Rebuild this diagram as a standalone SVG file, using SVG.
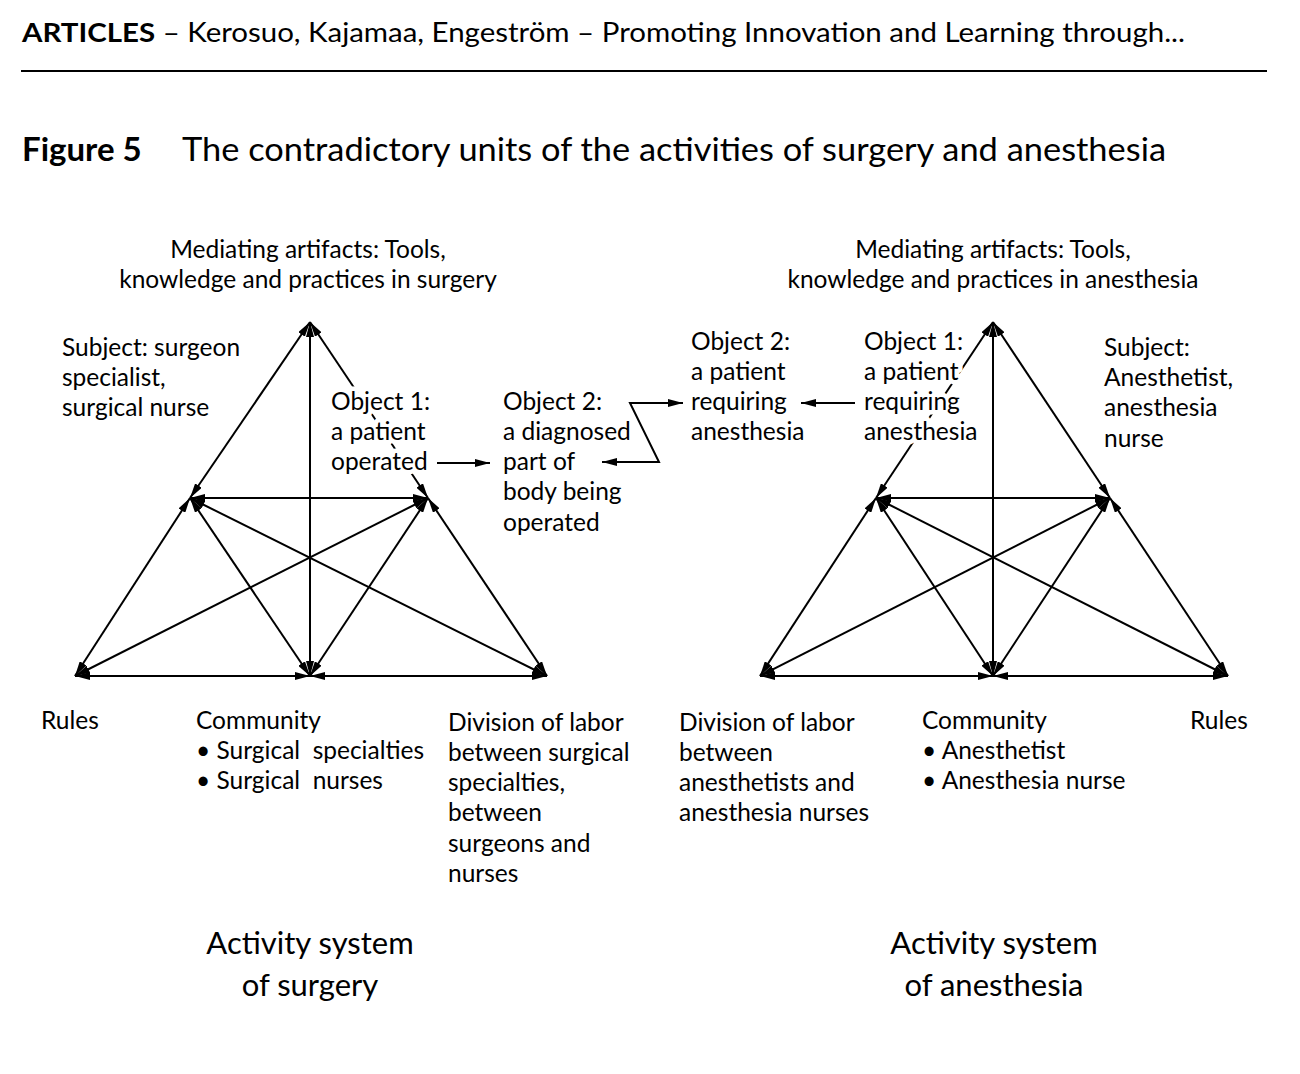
<svg xmlns="http://www.w3.org/2000/svg" width="1300" height="1074" viewBox="0 0 1300 1074">
<style>
text{font-family:Lato,"Open Sans","Liberation Sans",sans-serif;fill:#000}
.t{font-size:24.5px}
.mid{text-anchor:middle}
.halo{stroke:#fff;stroke-width:9px;paint-order:stroke;stroke-linejoin:round}
.big{font-size:31px}
.e{stroke:#000;stroke-width:2;fill:none;marker-start:url(#ah);marker-end:url(#ah)}
.a1{stroke:#000;stroke-width:2;fill:none;marker-end:url(#ah)}
</style>
<defs>
<marker id="ah" viewBox="0 0 15 8" refX="15" refY="4" markerWidth="15" markerHeight="8" markerUnits="userSpaceOnUse" orient="auto-start-reverse">
<path d="M0,0 L15,4 L0,8 z" fill="#000"/>
</marker>
</defs>
<rect width="1300" height="1074" fill="#fff"/>
<g id="header">
<text x="22" y="42" font-size="26" textLength="1163" lengthAdjust="spacingAndGlyphs"><tspan font-weight="bold">ARTICLES</tspan> – Kerosuo, Kajamaa, Engeström – Promoting Innovation and Learning through...</text>
<line x1="21" y1="71" x2="1267" y2="71" stroke="#000" stroke-width="2"/>
<text x="22" y="161" font-size="33" font-weight="bold">Figure 5</text>
<text x="182" y="161" font-size="33" textLength="984" lengthAdjust="spacingAndGlyphs">The contradictory units of the activities of surgery and anesthesia</text>
</g>
<g id="connectors">
<line class="e" x1="310" y1="322" x2="190" y2="498"/>
<line class="e" x1="310" y1="322" x2="428" y2="498"/>
<line class="e" x1="310" y1="322" x2="310" y2="676"/>
<line class="e" x1="190" y1="498" x2="428" y2="498"/>
<line class="e" x1="190" y1="498" x2="75" y2="676"/>
<line class="e" x1="190" y1="498" x2="310" y2="676"/>
<line class="e" x1="190" y1="498" x2="547" y2="676"/>
<line class="e" x1="428" y1="498" x2="75" y2="676"/>
<line class="e" x1="428" y1="498" x2="310" y2="676"/>
<line class="e" x1="428" y1="498" x2="547" y2="676"/>
<line class="e" x1="75" y1="676" x2="310" y2="676"/>
<line class="e" x1="310" y1="676" x2="547" y2="676"/>
<line class="e" x1="993" y1="322" x2="876" y2="498"/>
<line class="e" x1="993" y1="322" x2="1110" y2="498"/>
<line class="e" x1="993" y1="322" x2="993" y2="676"/>
<line class="e" x1="876" y1="498" x2="1110" y2="498"/>
<line class="e" x1="876" y1="498" x2="760" y2="676"/>
<line class="e" x1="876" y1="498" x2="993" y2="676"/>
<line class="e" x1="876" y1="498" x2="1228" y2="676"/>
<line class="e" x1="1110" y1="498" x2="760" y2="676"/>
<line class="e" x1="1110" y1="498" x2="993" y2="676"/>
<line class="e" x1="1110" y1="498" x2="1228" y2="676"/>
<line class="e" x1="760" y1="676" x2="993" y2="676"/>
<line class="e" x1="993" y1="676" x2="1228" y2="676"/>
<line class="a1" x1="437" y1="463" x2="490" y2="463"/>
<polyline class="e" points="683,403 630,403 659,462 602,462"/>
<line class="a1" x1="855" y1="403" x2="801" y2="403"/>
</g>
<g id="surgery-labels">
<g id="mediating-surgery"><text class="t mid" x="308" y="258">Mediating artifacts: Tools,</text><text class="t mid" x="308" y="288">knowledge and practices in surgery</text></g>
<g id="subject-surgery"><text class="t" x="62" y="356">Subject: surgeon</text><text class="t" x="62" y="386">specialist,</text><text class="t" x="62" y="416">surgical nurse</text></g>
<g id="object1-surgery"><text class="t halo" x="331" y="410">Object 1:</text><text class="t halo" x="331" y="440">a patient</text><text class="t halo" x="331" y="470">operated</text></g>
<g id="object2-surgery"><text class="t" x="503" y="410">Object 2:</text><text class="t" x="503" y="440">a diagnosed</text><text class="t" x="503" y="470">part of</text><text class="t" x="503" y="500">body being</text><text class="t" x="503" y="531">operated</text></g>
<g id="rules-surgery"><text class="t" x="41" y="729">Rules</text></g>
<g id="community-surgery"><text class="t" x="196" y="729">Community</text><text class="t" x="196" y="759" xml:space="preserve">• Surgical  specialties</text><text class="t" x="196" y="789" xml:space="preserve">• Surgical  nurses</text></g>
<g id="division-surgery"><text class="t" x="448" y="731">Division of labor</text><text class="t" x="448" y="761">between surgical</text><text class="t" x="448" y="791">specialties,</text><text class="t" x="448" y="821">between</text><text class="t" x="448" y="852">surgeons and</text><text class="t" x="448" y="882">nurses</text></g>
<g id="caption-surgery"><text class="big mid" x="310" y="954">Activity system</text><text class="big mid" x="310" y="996">of surgery</text></g>
</g>
<g id="anesthesia-labels">
<g id="mediating-anesthesia"><text class="t mid" x="993" y="258">Mediating artifacts: Tools,</text><text class="t mid" x="993" y="288">knowledge and practices in anesthesia</text></g>
<g id="object2-anesthesia"><text class="t" x="691" y="350">Object 2:</text><text class="t" x="691" y="380">a patient</text><text class="t" x="691" y="410">requiring</text><text class="t" x="691" y="440">anesthesia</text></g>
<g id="object1-anesthesia"><text class="t halo" x="864" y="350">Object 1:</text><text class="t halo" x="864" y="380">a patient</text><text class="t halo" x="864" y="410">requiring</text><text class="t halo" x="864" y="440">anesthesia</text></g>
<g id="subject-anesthesia"><text class="t" x="1104" y="356">Subject:</text><text class="t" x="1104" y="386">Anesthetist,</text><text class="t" x="1104" y="416">anesthesia</text><text class="t" x="1104" y="447">nurse</text></g>
<g id="division-anesthesia"><text class="t" x="679" y="731">Division of labor</text><text class="t" x="679" y="761">between</text><text class="t" x="679" y="791">anesthetists and</text><text class="t" x="679" y="821">anesthesia nurses</text></g>
<g id="community-anesthesia"><text class="t" x="922" y="729">Community</text><text class="t" x="922" y="759">• Anesthetist</text><text class="t" x="922" y="789">• Anesthesia nurse</text></g>
<g id="rules-anesthesia"><text class="t" x="1190" y="729">Rules</text></g>
<g id="caption-anesthesia"><text class="big mid" x="994" y="954">Activity system</text><text class="big mid" x="994" y="996">of anesthesia</text></g>
</g>
</svg>
